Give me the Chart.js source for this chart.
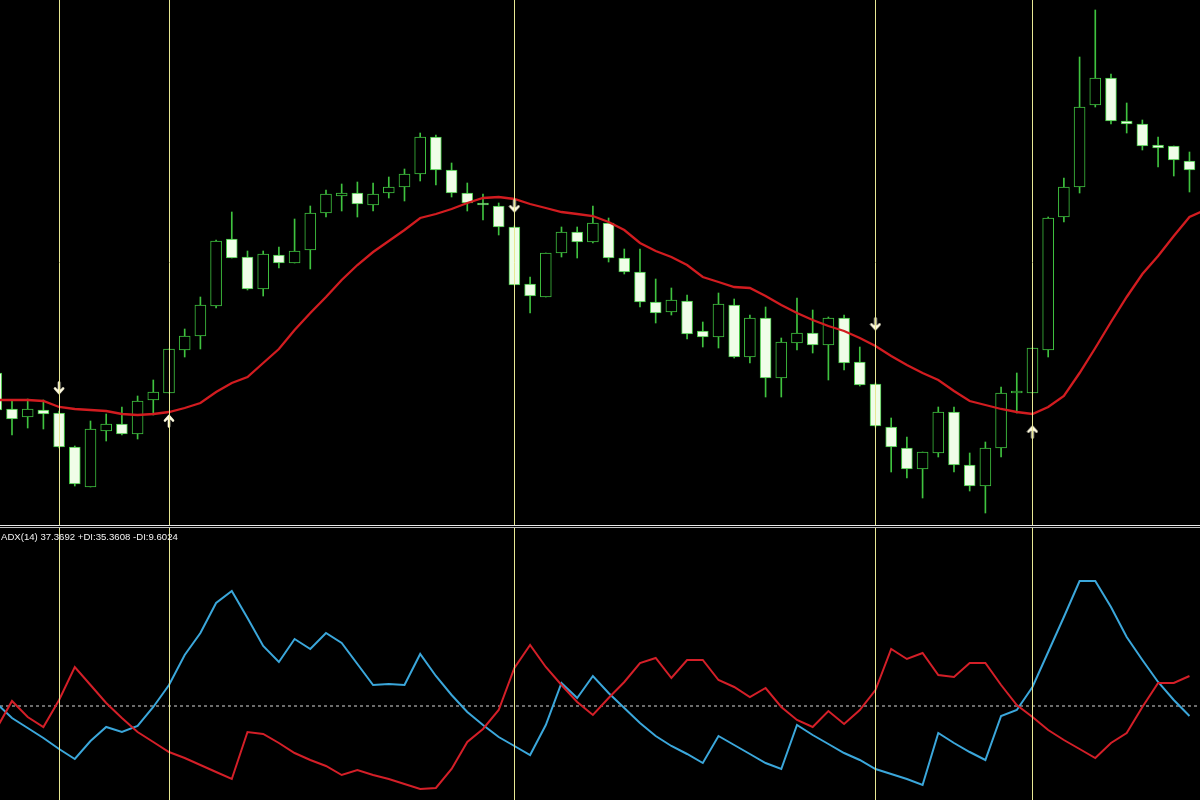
<!DOCTYPE html>
<html>
<head>
<meta charset="utf-8">
<script src="https://cdn.jsdelivr.net/npm/chart.js@4.4.0/dist/chart.umd.min.js"></script>
<style>
  html, body { margin: 0; padding: 0; background: #000; }
  #wrap { position: relative; width: 1200px; height: 800px; overflow: hidden; background: #000; }
  #priceChart { position: absolute; left: 0; top: 0; }
  #adxChart { position: absolute; left: 0; top: 528px; }
  .sep { position: absolute; left: 0; width: 1200px; height: 1px; }
  #adxLabel {
    position: absolute; left: 1px; top: 531px;
    font: 9.6px "Liberation Sans", Arial, sans-serif; color: #f2f2f2; white-space: nowrap;
  }
</style>
</head>
<body>
<div id="wrap">
  <canvas id="priceChart" width="1200" height="525"></canvas>
  <div class="sep" style="top:525px;background:#e8e8e8"></div>
  <div class="sep" style="top:527px;background:#bdbdbd"></div>
  <canvas id="adxChart" width="1200" height="272"></canvas>
  <div id="adxLabel">ADX(14) 37.3692 +DI:35.3608 -DI:9.6024</div>
</div>
<script>
// first bar is only partly visible at the left edge
const FIRST_BAR = -1;

const opens = [
  1.1227, 1.1191, 1.1183, 1.1190, 1.1187, 1.1153, 1.1113, 1.1169, 1.1176, 1.1166,
  1.1200, 1.1207, 1.1250, 1.1264, 1.1294, 1.1361, 1.1343, 1.1311, 1.1345, 1.1337,
  1.1350, 1.1387, 1.1404, 1.1407, 1.1395, 1.1407, 1.1413, 1.1426, 1.1463, 1.1430,
  1.1407, 1.1396, 1.1394, 1.1373, 1.1316, 1.1303, 1.1347, 1.1368, 1.1358, 1.1377,
  1.1342, 1.1328, 1.1298, 1.1288, 1.1299, 1.1269, 1.1263, 1.1295, 1.1243, 1.1282,
  1.1222, 1.1257, 1.1267, 1.1255, 1.1282, 1.1238, 1.1216, 1.1173, 1.1152, 1.1131,
  1.1147, 1.1188, 1.1135, 1.1114, 1.1152, 1.1207, 1.1207, 1.1250, 1.1383, 1.1413,
  1.1495, 1.1522, 1.1479, 1.1476, 1.1455, 1.1454, 1.1439
];
const highs = [
  1.1230, 1.1200, 1.1201, 1.1200, 1.1189, 1.1154, 1.1179, 1.1186, 1.1193, 1.1204,
  1.1220, 1.1251, 1.1271, 1.1303, 1.1360, 1.1388, 1.1349, 1.1349, 1.1353, 1.1381,
  1.1394, 1.1410, 1.1416, 1.1418, 1.1417, 1.1423, 1.1431, 1.1467, 1.1465, 1.1437,
  1.1417, 1.1406, 1.1397, 1.1374, 1.1323, 1.1347, 1.1373, 1.1373, 1.1394, 1.1382,
  1.1351, 1.1351, 1.1321, 1.1312, 1.1305, 1.1278, 1.1307, 1.1301, 1.1285, 1.1293,
  1.1262, 1.1302, 1.1290, 1.1283, 1.1285, 1.1253, 1.1217, 1.1182, 1.1163, 1.1148,
  1.1193, 1.1193, 1.1147, 1.1158, 1.1213, 1.1227, 1.1252, 1.1383, 1.1422, 1.1543,
  1.1590, 1.1526, 1.1497, 1.1480, 1.1463, 1.1454, 1.1448
];
const lows = [
  1.1188, 1.1165, 1.1172, 1.1171, 1.1152, 1.1114, 1.1113, 1.1159, 1.1165, 1.1161,
  1.1185, 1.1207, 1.1243, 1.1251, 1.1292, 1.1342, 1.1310, 1.1304, 1.1332, 1.1337,
  1.1331, 1.1383, 1.1389, 1.1383, 1.1389, 1.1402, 1.1399, 1.1419, 1.1415, 1.1403,
  1.1389, 1.1380, 1.1365, 1.1315, 1.1287, 1.1303, 1.1343, 1.1342, 1.1357, 1.1338,
  1.1326, 1.1293, 1.1277, 1.1285, 1.1261, 1.1253, 1.1252, 1.1242, 1.1237, 1.1203,
  1.1203, 1.1250, 1.1247, 1.1220, 1.1230, 1.1214, 1.1173, 1.1128, 1.1122, 1.1102,
  1.1143, 1.1128, 1.1109, 1.1087, 1.1143, 1.1187, 1.1207, 1.1243, 1.1378, 1.1407,
  1.1493, 1.1476, 1.1467, 1.1450, 1.1433, 1.1424, 1.1408
];
const closes = [
  1.1190, 1.1181, 1.1191, 1.1186, 1.1153, 1.1116, 1.1171, 1.1176, 1.1166, 1.1199,
  1.1208, 1.1251, 1.1264, 1.1295, 1.1359, 1.1342, 1.1311, 1.1346, 1.1337, 1.1349,
  1.1387, 1.1406, 1.1407, 1.1396, 1.1406, 1.1413, 1.1426, 1.1463, 1.1430, 1.1407,
  1.1397, 1.1395, 1.1373, 1.1315, 1.1304, 1.1347, 1.1368, 1.1358, 1.1377, 1.1342,
  1.1328, 1.1298, 1.1287, 1.1300, 1.1266, 1.1263, 1.1296, 1.1243, 1.1282, 1.1222,
  1.1258, 1.1267, 1.1255, 1.1282, 1.1237, 1.1215, 1.1174, 1.1153, 1.1131, 1.1148,
  1.1188, 1.1135, 1.1114, 1.1152, 1.1207, 1.1209, 1.1252, 1.1382, 1.1413, 1.1493,
  1.1522, 1.1479, 1.1476, 1.1454, 1.1452, 1.1440, 1.1430
];
// moving average, one extra value for the bar still forming on the right
const movingAvg = [
  1.1200, 1.1200, 1.1200, 1.1199, 1.1193, 1.1191, 1.1190, 1.1189, 1.1186, 1.1185,
  1.1186, 1.1188, 1.1192, 1.1197, 1.1208, 1.1217, 1.1223, 1.1237, 1.1251, 1.1270,
  1.1287, 1.1303, 1.1320, 1.1335, 1.1348, 1.1359, 1.1370, 1.1382, 1.1386, 1.1391,
  1.1397, 1.1402, 1.1403, 1.1401, 1.1396, 1.1392, 1.1388, 1.1386, 1.1384, 1.1378,
  1.1370, 1.1357, 1.1349, 1.1343, 1.1335, 1.1323, 1.1318, 1.1313, 1.1312, 1.1304,
  1.1295, 1.1287, 1.1280, 1.1274, 1.1269, 1.1262, 1.1254, 1.1244, 1.1235, 1.1227,
  1.1220, 1.1209, 1.1199, 1.1195, 1.1191, 1.1188, 1.1186, 1.1193, 1.1204, 1.1227,
  1.1252, 1.1278, 1.1303, 1.1326, 1.1344, 1.1364, 1.1383, 1.1390
];

const diBlue = [
  20.6, 17.6, 15.6, 13.6, 11.4, 9.4, 13.0, 15.8, 14.8, 16.0,
  19.8, 24.2, 30.2, 34.6, 40.6, 43.0, 37.6, 32.0, 28.8, 33.4,
  31.4, 34.6, 32.6, 28.4, 24.2, 24.4, 24.2, 30.4, 26.0, 22.2,
  18.8, 16.2, 13.8, 12.0, 10.2, 16.2, 24.6, 21.6, 26.0, 22.6,
  19.6, 16.6, 14.0, 12.0, 10.4, 8.6, 14.0, 12.2, 10.4, 8.6,
  7.4, 16.2, 14.2, 12.4, 10.6, 9.2, 7.4, 6.4, 5.4, 4.2,
  14.6, 12.6, 10.8, 9.2, 18.0, 19.2, 23.8, 30.8, 37.8, 45.0,
  45.0, 39.8, 33.8, 29.2, 24.8, 21.2, 18.0
];
const diRed = [
  15.4, 21.0, 17.8, 15.8, 21.2, 27.8, 24.2, 20.6, 17.6, 14.8,
  12.8, 10.8, 9.6, 8.2, 6.8, 5.4, 14.8, 14.4, 12.6, 10.6,
  9.2, 8.0, 6.2, 7.2, 6.2, 5.4, 4.4, 3.4, 3.6, 7.4,
  12.8, 15.4, 19.2, 27.6, 32.2, 27.8, 24.2, 20.8, 18.2, 21.6,
  24.8, 28.6, 29.6, 25.6, 29.2, 29.2, 25.2, 23.8, 21.8, 23.6,
  19.8, 17.2, 15.8, 19.0, 16.4, 19.2, 23.2, 31.4, 29.4, 30.6,
  26.2, 25.8, 28.6, 28.6, 24.2, 20.2, 17.8, 15.2, 13.2, 11.4,
  9.6, 12.6, 14.6, 19.8, 24.6, 24.6, 26.0
];
const adxLevel = 20;

const signalBars = [3, 10, 32, 55, 65];
const downArrowBars = [3, 32, 55];
const downArrowPrices = [1.1212, 1.1394, 1.1276];
const upArrowBars = [10, 65];
const upArrowPrices = [1.1179, 1.1168];

const bars = opens.map((_, k) => FIRST_BAR + k);
const xMin = -0.764;
const xMax = 75.67;

const GREEN = '#3fc23f';
const BEAR_FILL = '#f0fde8';
const LINE_YELLOW = '#e8e894';

// vertical signal lines through both panels
const signalLines = {
  id: 'signalLines',
  afterDatasetsDraw(chart) {
    const { ctx, chartArea, scales } = chart;
    ctx.save();
    ctx.strokeStyle = LINE_YELLOW;
    ctx.lineWidth = 1;
    signalBars.forEach(b => {
      const x = Math.round(scales.x.getPixelForValue(b)) + 0.5;
      ctx.beginPath();
      ctx.moveTo(x, chartArea.top);
      ctx.lineTo(x, chartArea.bottom);
      ctx.stroke();
    });
    ctx.restore();
  }
};

function makeArrow(down) {
  const c = document.createElement('canvas');
  c.width = 12;
  c.height = 14;
  const g = c.getContext('2d');
  g.strokeStyle = '#fffbe0';
  g.lineWidth = 2.6;
  g.lineCap = 'round';
  g.lineJoin = 'round';
  if (!down) {
    g.translate(0, 14);
    g.scale(1, -1);
  }
  g.beginPath();
  g.moveTo(6, 1.5);
  g.lineTo(6, 11.5);
  g.moveTo(2, 7.5);
  g.lineTo(6, 12);
  g.lineTo(10, 7.5);
  g.stroke();
  return c;
}

const baseOptions = {
  responsive: false,
  animation: false,
  layout: { padding: 0, autoPadding: false },
  plugins: { legend: { display: false }, tooltip: { enabled: false } }
};

function initPriceChart() {
  const ctx = document.getElementById('priceChart').getContext('2d');
  const isBull = bars.map((b, k) => closes[k] >= opens[k]);

  const datasets = [
    {
      type: 'bar',
      label: 'Wicks',
      data: bars.map((b, k) => ({ x: b, y: [lows[k], highs[k]] })),
      backgroundColor: GREEN,
      borderWidth: 0,
      barThickness: 1,
      grouped: false,
      order: 4
    },
    {
      type: 'bar',
      label: 'Bodies',
      data: bars.map((b, k) => ({ x: b, y: [opens[k], closes[k]] })),
      backgroundColor: isBull.map(up => up ? '#000000' : BEAR_FILL),
      borderColor: GREEN,
      borderWidth: 1,
      borderSkipped: false,
      barThickness: 11,
      minBarLength: 2,
      grouped: false,
      order: 3
    },
    {
      type: 'line',
      label: 'MA',
      data: movingAvg.map((v, k) => ({ x: FIRST_BAR + k, y: v })),
      borderColor: '#d21c20',
      borderWidth: 2.3,
      pointRadius: 0,
      tension: 0,
      order: 2
    },
    {
      type: 'line',
      label: 'Sell',
      data: downArrowBars.map((b, k) => ({ x: b, y: downArrowPrices[k] })),
      showLine: false,
      pointStyle: makeArrow(true),
      pointRadius: 5,
      order: 1
    },
    {
      type: 'line',
      label: 'Buy',
      data: upArrowBars.map((b, k) => ({ x: b, y: upArrowPrices[k] })),
      showLine: false,
      pointStyle: makeArrow(false),
      pointRadius: 5,
      order: 1
    }
  ];

  return new Chart(ctx, {
    type: 'bar',
    data: { datasets },
    options: {
      ...baseOptions,
      scales: {
        x: { type: 'linear', min: xMin, max: xMax, offset: false, display: false },
        y: { type: 'linear', min: 1.1075, max: 1.1600, display: false }
      }
    },
    plugins: [signalLines]
  });
}

function initAdxChart() {
  const ctx = document.getElementById('adxChart').getContext('2d');
  const toPoints = arr => arr.map((v, k) => ({ x: FIRST_BAR + k, y: v }));

  return new Chart(ctx, {
    type: 'line',
    data: {
      datasets: [
        {
          label: 'Level',
          data: [{ x: xMin, y: adxLevel }, { x: xMax, y: adxLevel }],
          borderColor: '#d8d8d8',
          borderWidth: 1,
          borderDash: [3, 3],
          pointRadius: 0,
          order: 3
        },
        {
          label: '+DI',
          data: toPoints(diBlue),
          borderColor: '#3ba7db',
          borderWidth: 2,
          pointRadius: 0,
          tension: 0,
          order: 2
        },
        {
          label: '-DI',
          data: toPoints(diRed),
          borderColor: '#d41f28',
          borderWidth: 2,
          pointRadius: 0,
          tension: 0,
          order: 1
        }
      ]
    },
    options: {
      ...baseOptions,
      scales: {
        x: { type: 'linear', min: xMin, max: xMax, offset: false, display: false },
        y: { type: 'linear', min: 1.2, max: 55.6, display: false }
      }
    },
    plugins: [signalLines]
  });
}

initPriceChart();
initAdxChart();
</script>
</body>
</html>
